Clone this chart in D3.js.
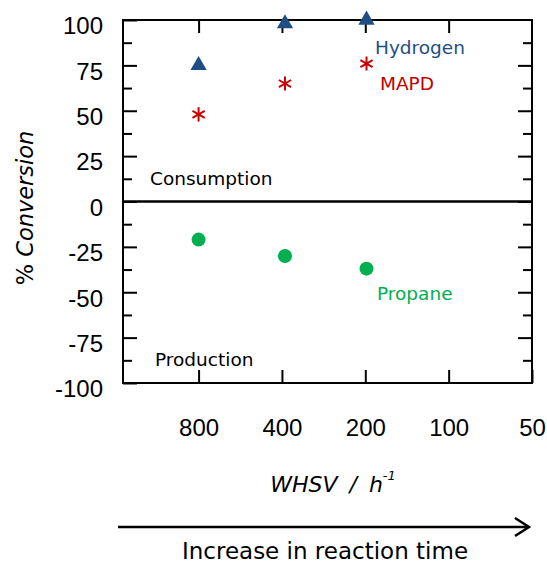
<!DOCTYPE html>
<html>
<head>
<meta charset="utf-8">
<script src="https://cdn.jsdelivr.net/npm/d3@7"></script>
<style>
  body { margin: 0; background: #fff; }
  .tick text { font-family: "Liberation Sans", Arial, sans-serif; font-size: 24px; fill: #000; }
  .tick line { stroke: #000; stroke-width: 2; }
  .note { font-family: "DejaVu Sans", sans-serif; font-size: 18.5px; }
</style>
</head>
<body>
<div id="chart"></div>
<script>
// WHSV values (h^-1) for each experiment
var whsv = [800, 390, 198];
var hydrogen = [75, 98, 100];
var mapd = [48, 65, 76];
var propane = [-21, -30, -37];

var xTicks = [800, 400, 200, 100, 50];
var yTicks = [-100, -75, -50, -25, 0, 25, 50, 75, 100];
var yMinor = [-87.5, -62.5, -37.5, -12.5, 12.5, 37.5, 62.5, 87.5];

var width = 547, height = 565;
// plot frame edges (note: "top" is reserved on window)
var plotLeft = 123, plotRight = 532, plotTop = 20, plotBottom = 383;

var svg = d3.select("#chart").append("svg")
            .attr("width", width)
            .attr("height", height);

var x = d3.scaleLog().domain([1500, 50]).range([plotLeft, plotRight]);
var y = d3.scaleLinear().domain([-100, 100]).range([plotBottom, plotTop]);

var plainNum = function(d) { return String(d); };

// y axes, ticks pointing inward
svg.append("g")
   .attr("transform", "translate(" + plotLeft + ",0)")
   .call(d3.axisLeft(y).tickValues(yTicks).tickSizeInner(-14).tickSizeOuter(0).tickPadding(20).tickFormat(plainNum))
   .call(function(g) { g.select(".domain").remove(); g.selectAll("text").attr("dy", "0.7em").attr("y", -3); });

svg.append("g")
   .attr("transform", "translate(" + plotLeft + ",0)")
   .call(d3.axisLeft(y).tickValues(yMinor).tickSizeInner(-9).tickSizeOuter(0).tickFormat(""))
   .call(function(g) { g.select(".domain").remove(); });

svg.append("g")
   .attr("transform", "translate(" + plotRight + ",0)")
   .call(d3.axisRight(y).tickValues(yTicks.slice(1, -1)).tickSizeInner(-14).tickSizeOuter(0).tickFormat(""))
   .call(function(g) { g.select(".domain").remove(); });

svg.append("g")
   .attr("transform", "translate(" + plotRight + ",0)")
   .call(d3.axisRight(y).tickValues(yMinor).tickSizeInner(-9).tickSizeOuter(0).tickFormat(""))
   .call(function(g) { g.select(".domain").remove(); });

// x axes
svg.append("g")
   .attr("transform", "translate(0," + plotBottom + ")")
   .call(d3.axisBottom(x).tickValues(xTicks).tickSizeInner(-13).tickSizeOuter(0).tickPadding(36).tickFormat(plainNum))
   .call(function(g) { g.select(".domain").remove(); });

svg.append("g")
   .attr("transform", "translate(0," + plotTop + ")")
   .call(d3.axisTop(x).tickValues(xTicks.slice(0, -1)).tickSizeInner(-13).tickSizeOuter(0).tickFormat(""))
   .call(function(g) { g.select(".domain").remove(); });

// frame
svg.append("rect")
   .attr("x", plotLeft).attr("y", plotTop)
   .attr("width", plotRight - plotLeft).attr("height", plotBottom - plotTop)
   .attr("fill", "none").attr("stroke", "#000").attr("stroke-width", 2);

// zero line
svg.append("line")
   .attr("x1", plotLeft).attr("x2", plotRight)
   .attr("y1", y(0)).attr("y2", y(0))
   .attr("stroke", "#000").attr("stroke-width", 2.5);

// series
svg.selectAll("path.h2")
   .data(whsv.map(function(d, i) { return [d, hydrogen[i]]; }))
   .enter().append("path")
   .attr("class", "h2")
   .attr("d", d3.symbol().type(d3.symbolTriangle).size(115))
   .attr("transform", function(d) { return "translate(" + x(d[0]) + "," + y(d[1]) + ")"; })
   .attr("fill", "#1f4e85");

svg.selectAll("path.mapd")
   .data(whsv.map(function(d, i) { return [d, mapd[i]]; }))
   .enter().append("path")
   .attr("class", "mapd")
   .attr("d", d3.symbol().type(d3.symbolAsterisk).size(140))
   .attr("transform", function(d) { return "translate(" + x(d[0]) + "," + y(d[1]) + ")"; })
   .attr("fill", "none").attr("stroke", "#cc0000").attr("stroke-width", 2);

svg.selectAll("circle.propane")
   .data(whsv.map(function(d, i) { return [d, propane[i]]; }))
   .enter().append("circle")
   .attr("class", "propane")
   .attr("cx", function(d) { return x(d[0]); })
   .attr("cy", function(d) { return y(d[1]); })
   .attr("r", 7)
   .attr("fill", "#00b050");

// labels
svg.append("text").attr("class", "note").attr("x", 375).attr("y", 54).attr("fill", "#1f4e85").text("Hydrogen");
svg.append("text").attr("class", "note").attr("x", 380).attr("y", 90).attr("fill", "#c00000").text("MAPD");
svg.append("text").attr("class", "note").attr("x", 377).attr("y", 300).attr("fill", "#00b050").text("Propane");
svg.append("text").attr("class", "note").attr("x", 150).attr("y", 185).attr("fill", "#000").text("Consumption");
svg.append("text").attr("class", "note").attr("x", 155).attr("y", 366).attr("fill", "#000").text("Production");

var ylab = svg.append("text")
   .attr("transform", "translate(33,208) rotate(-90)")
   .attr("text-anchor", "middle")
   .style("font-family", "DejaVu Sans, sans-serif")
   .style("font-size", "22.5px");
ylab.append("tspan").text("% ");
ylab.append("tspan").style("font-style", "italic").text("Conversion");

var xlab = svg.append("text")
   .attr("x", 333).attr("y", 492)
   .attr("text-anchor", "middle")
   .style("font-family", "DejaVu Sans, sans-serif")
   .style("font-size", "22px")
   .style("word-spacing", "5px")
   .style("font-style", "italic");
xlab.append("tspan").text("WHSV / h");
xlab.append("tspan").attr("dy", -12).style("font-size", "13px").text("-1");

// reaction time arrow
svg.append("line")
   .attr("x1", 118).attr("x2", 528)
   .attr("y1", 527).attr("y2", 527)
   .attr("stroke", "#000").attr("stroke-width", 2.5);
svg.append("path")
   .attr("d", "M515,518 L529,527 L515,536")
   .attr("fill", "none").attr("stroke", "#000").attr("stroke-width", 2.5);

svg.append("text")
   .attr("x", 325).attr("y", 559)
   .attr("text-anchor", "middle")
   .style("font-family", "DejaVu Sans, sans-serif")
   .style("font-size", "23px")
   .text("Increase in reaction time");
</script>
</body>
</html>
